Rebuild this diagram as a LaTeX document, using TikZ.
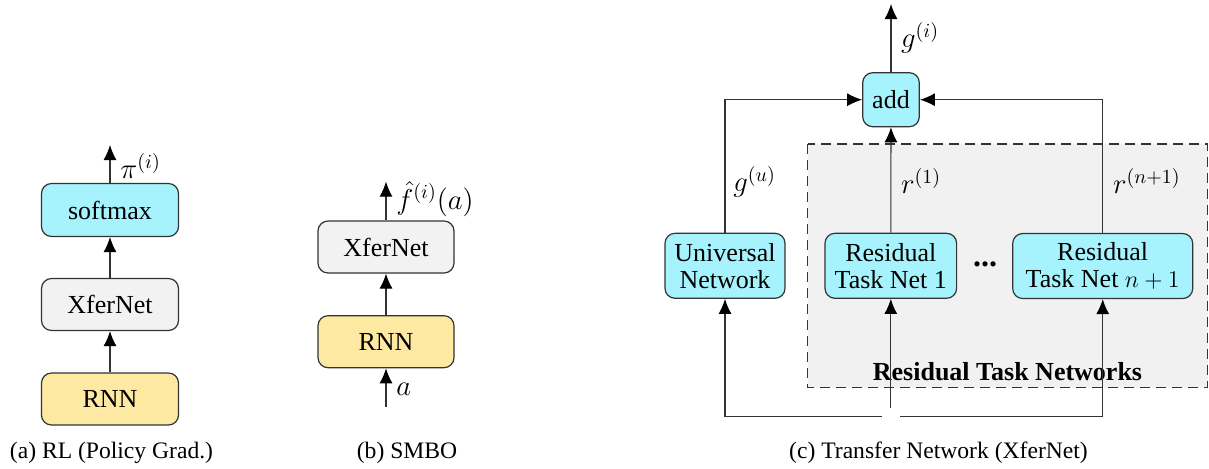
\documentclass[tikz,border=0pt]{standalone}
\usepackage{fontspec}
\setmainfont{Liberation Serif}
\usetikzlibrary{arrows.meta}

\definecolor{netcyan}{HTML}{A6F3FD}
\definecolor{rnnyellow}{HTML}{FDE9A1}
\definecolor{xfergray}{HTML}{F2F2F2}
\definecolor{groupgray}{HTML}{F1F1F1}
\definecolor{edgegray}{HTML}{333333}

\begin{document}
\begin{tikzpicture}[x=0.5pt,y=-0.5pt,
    block/.style ={rectangle, rounded corners=5pt, draw=edgegray, line width=0.6pt,
      align=center, inner sep=2pt, font=\fontsize{13}{13.7}\selectfont},
    block_cyan/.style ={block, fill=netcyan},
    block_rnn/.style ={block, fill=rnnyellow, minimum width=68.5pt, minimum height=26pt},
    block_xfer/.style ={block, fill=xfergray, minimum width=68.5pt, minimum height=26pt},
    block_two/.style ={block_cyan, minimum height=32.5pt},
    lbl/.style ={anchor=west, inner sep=0pt, font=\fontsize{14}{15}\selectfont},
    caption/.style ={font=\fontsize{11.8}{14}\selectfont},
    group/.style ={draw=edgegray, line width=0.55pt, dash pattern=on 5pt off 3pt, fill=groupgray},
    line/.style ={draw=edgegray, line width=0.55pt, -{Latex[length=7.5pt,width=6.5pt,color=black]}}]
    \useasboundingbox (0,0) rectangle (1209,468);

    % (a) policy gradient - column 1
    \node[block_rnn] (rnn_a) at (110,399) {RNN};
    \node[block_xfer] (xfer_a) at (110,304.5) {XferNet};
    \node[block_cyan, minimum width=68.5pt, minimum height=26.5pt] (softmax_a) at (110,210) {softmax};
    \coordinate (out_a) at (110,145);
    \draw[line] (rnn_a) -- (xfer_a);
    \draw[line] (xfer_a) -- (softmax_a);
    \draw[line] (softmax_a) -- (out_a);
    \node[lbl] (pi_a) at (120,166) {$\pi^{(i)}$};
    \node[caption] (cap_a) at (111.5,453) {(a) RL (Policy Grad.)};

    % (b) SMBO - column 2
    \node[block_rnn, minimum width=68pt] (rnn_b) at (386,341.7) {RNN};
    \node[block_xfer, minimum width=68pt] (xfer_b) at (386,247) {XferNet};
    \coordinate (in_b) at (386,406.7);
    \coordinate (out_b) at (386,181.7);
    \draw[line] (in_b) -- (rnn_b);
    \draw[line] (rnn_b) -- (xfer_b);
    \draw[line] (xfer_b) -- (out_b);
    \node[lbl] (fhat_b) at (396,199) {$\hat{f}^{(i)}(a)$};
    \node[lbl] (a_b) at (396,389) {$a$};
    \node[caption] (cap_b) at (407,453) {(b) SMBO};

    % (c) transfer network - residual group in the back
    \draw[group] (807.7,144) rectangle (1207.6,387.5);
    \node[font=\bfseries\fontsize{13}{13.7}\selectfont] (group_lbl) at (1007.5,372) {Residual Task Networks};

    \node[block_cyan, minimum width=28.3pt, minimum height=27pt] (add) at (891,99.7) {add};
    \node[block_two, minimum width=60pt] (univ) at (725,265.8) {Universal\\Network};
    \node[block_two, minimum width=65.8pt] (res_1) at (890.8,265.8) {Residual\\Task Net 1};
    \node[block_two, minimum width=90pt] (res_n) at (1102.7,266) {Residual\\Task Net $n+1$};
    \node[font=\bfseries\fontsize{16}{16}\selectfont] (dots) at (985,264) {...};

    \coordinate (out_c) at (891,4);
    \coordinate (split) at (890.8,408);
    \coordinate (bus_l) at (881.7,416.7);
    \coordinate (bus_r) at (900,416.7);

    \draw[line] (bus_l) -| (univ);
    \draw[line] (split) -- (res_1.south);
    \draw[line] (bus_r) -| (res_n);
    \draw[line] (univ) |- (add);
    \draw[line] (res_1) -- (add);
    \draw[line] (res_n) |- (add);
    \draw[line] (add) -- (out_c);

    \node[lbl] (gi_c) at (900.7,38) {$g^{(i)}$};
    \node[lbl] (gu_c) at (733,182) {$g^{(u)}$};
    \node[lbl] (r1_c) at (900.7,181) {$r^{(1)}$};
    \node[lbl] (rn_c) at (1112.7,181) {$r^{(n+1)}$};
    \node[caption] (cap_c) at (938.5,453) {(c) Transfer Network (XferNet)};
\end{tikzpicture}
\end{document}
